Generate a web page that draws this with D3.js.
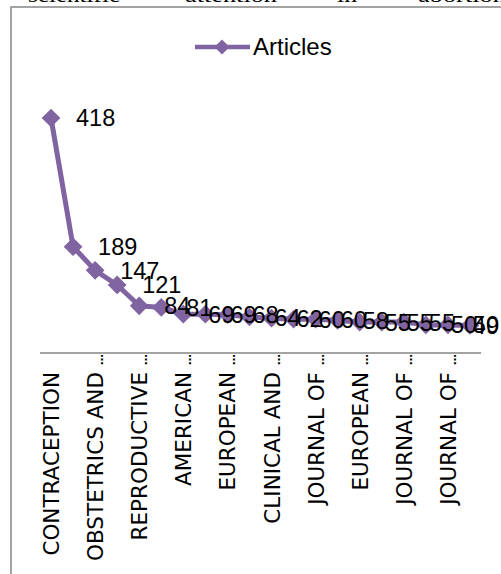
<!DOCTYPE html>
<html>
<head>
<meta charset="utf-8">
<script src="https://cdn.jsdelivr.net/npm/d3@7"></script>
<style>
    body { margin: 0; background: #fff; overflow: hidden; }
    svg { display: block; }
</style>
</head>
<body>
<svg id="chart"></svg>
<script>
// journals in rank order (only every second name is shown on the axis)
const journals = [
    "CONTRACEPTION",
    "HUMAN REPRODUCTION",
    "OBSTETRICS AND GYNECOLOGY",
    "BJOG",
    "REPRODUCTIVE HEALTH MATTERS",
    "PERSPECTIVES ON SEXUAL AND REPRODUCTIVE HEALTH",
    "AMERICAN JOURNAL OF OBSTETRICS AND GYNECOLOGY",
    "INTERNATIONAL JOURNAL OF GYNECOLOGY AND OBSTETRICS",
    "EUROPEAN JOURNAL OF CONTRACEPTION AND REPRODUCTIVE HEALTH CARE",
    "PRENATAL DIAGNOSIS",
    "CLINICAL AND EXPERIMENTAL OBSTETRICS AND GYNECOLOGY",
    "FERTILITY AND STERILITY",
    "JOURNAL OF OBSTETRICS AND GYNAECOLOGY",
    "PLOS ONE",
    "EUROPEAN JOURNAL OF OBSTETRICS GYNECOLOGY AND REPRODUCTIVE BIOLOGY",
    "BMC PREGNANCY AND CHILDBIRTH",
    "JOURNAL OF MEDICAL ETHICS",
    "ACTA OBSTETRICIA ET GYNECOLOGICA SCANDINAVICA",
    "JOURNAL OF REPRODUCTIVE MEDICINE",
    "SOCIAL SCIENCE AND MEDICINE"
];
const articles = [418, 189, 147, 121, 84, 81, 69, 69, 68, 64, 62, 60, 60, 58, 55, 55, 55, 50, 50, 49];
const tickLabels = [
    "CONTRACEPTION", "OBSTETRICS AND…", "REPRODUCTIVE…", "AMERICAN…", "EUROPEAN…",
    "CLINICAL AND…", "JOURNAL OF…", "EUROPEAN…", "JOURNAL OF…", "JOURNAL OF…"
];
const seriesName = "Articles";
const pageWords = ["scientific", "attention", "in", "abortion"];

const width = 501, height = 574;
const color = "#8064A2";
const labelFont = "'Liberation Sans', Arial, sans-serif";
const axisFont = "'DejaVu Sans', sans-serif";

const svg = d3.select("#chart")
    .attr("width", width)
    .attr("height", height);

// cut-off line of the surrounding document
const wordX = [[28, 120], [185, 277], [337, 357], [418, 506]];
svg.append("g").selectAll("text")
    .data(pageWords)
    .join("text")
    .attr("x", (d, i) => wordX[i][0])
    .attr("y", 2)
    .attr("textLength", (d, i) => wordX[i][1] - wordX[i][0])
    .attr("lengthAdjust", "spacingAndGlyphs")
    .attr("font-family", "'Liberation Serif', serif")
    .attr("font-size", 22)
    .attr("fill", "#000")
    .text(d => d);

// chart frame (continues past the right and bottom edges)
svg.append("rect")
    .attr("x", 11).attr("y", 7)
    .attr("width", 700).attr("height", 700)
    .attr("fill", "none")
    .attr("stroke", "#8c8c8c")
    .attr("stroke-width", 1.6);

const x = d3.scaleBand()
    .domain(d3.range(journals.length))
    .range([40, 481])
    .padding(0);

const y = d3.scaleLinear()
    .domain([0, 450])
    .range([353, 100]);

const cx = i => x(i) + x.bandwidth() / 2;

// category axis
svg.append("line")
    .attr("x1", x.range()[0]).attr("x2", x.range()[1])
    .attr("y1", y(0)).attr("y2", y(0))
    .attr("stroke", "#868686")
    .attr("stroke-width", 1.3);

const ticks = svg.append("g").selectAll("g")
    .data(tickLabels)
    .join("g")
    .attr("transform", (d, k) => `translate(${cx(k * 2) + 8}, 0) rotate(-90)`);

ticks.append("text")
    .attr("x", -372)
    .attr("y", 0)
    .attr("text-anchor", "end")
    .attr("font-family", axisFont)
    .attr("font-size", 21.5)
    .attr("fill", "#000")
    .text(d => d.replace("…", ""));

ticks.filter(d => d.endsWith("…"))
    .append("text")
    .attr("x", -354)
    .attr("y", 0)
    .attr("text-anchor", "end")
    .attr("font-family", axisFont)
    .attr("font-size", 11)
    .attr("font-weight", "bold")
    .attr("fill", "#000")
    .text("…");

// series line + markers
const line = d3.line()
    .x((d, i) => cx(i))
    .y(d => y(d));

svg.append("path")
    .datum(articles)
    .attr("d", line)
    .attr("fill", "none")
    .attr("stroke", color)
    .attr("stroke-width", 5)
    .attr("stroke-linejoin", "round");

const diamond = d3.symbol(d3.symbolSquare, 175);

svg.append("g").selectAll("path")
    .data(articles)
    .join("path")
    .attr("d", diamond)
    .attr("transform", (d, i) => `translate(${cx(i)}, ${y(d)}) rotate(45)`)
    .attr("fill", color);

// data labels, right of each marker, kept inside the chart
const labels = svg.append("g").selectAll("text")
    .data(articles)
    .join("text")
    .attr("x", (d, i) => cx(i) + 25)
    .attr("y", d => y(d) + 8.5)
    .attr("font-family", labelFont)
    .attr("font-size", 23.5)
    .attr("fill", "#000")
    .text(d => d);

labels.each(function () {
    const b = this.getBBox();
    if (b.x + b.width > width - 2) {
        d3.select(this).attr("x", width - 2 - b.width);
    }
});

// legend
const legend = svg.append("g").attr("transform", "translate(195, 47)");
legend.append("line")
    .attr("x1", 0).attr("x2", 55)
    .attr("stroke", color)
    .attr("stroke-width", 4.5);
legend.append("path")
    .attr("d", d3.symbol(d3.symbolSquare, 115))
    .attr("transform", "translate(27, 0) rotate(45)")
    .attr("fill", color);
legend.append("text")
    .attr("x", 58)
    .attr("y", 8)
    .attr("font-family", labelFont)
    .attr("font-size", 24)
    .attr("fill", "#000")
    .text(seriesName);
</script>
</body>
</html>
